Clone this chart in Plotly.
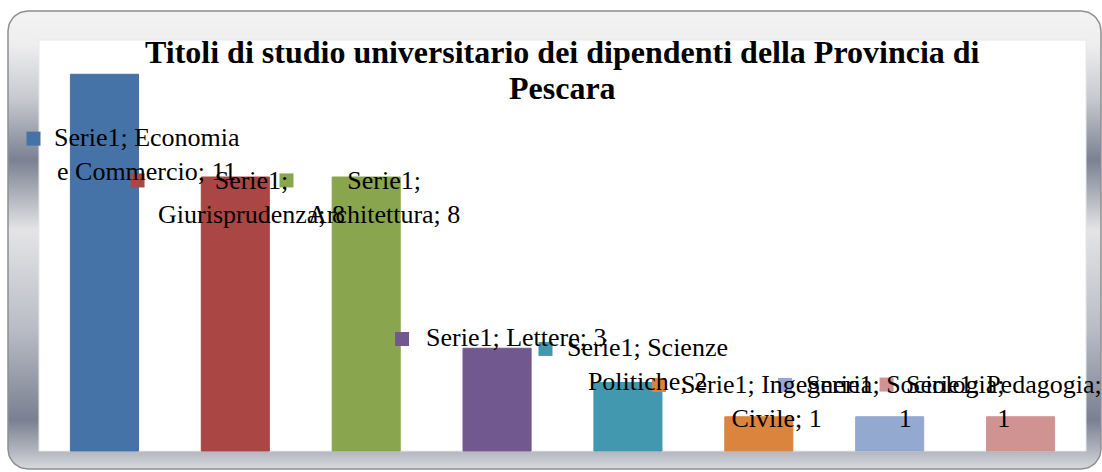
import numpy as np
import plotly.graph_objects as go

# ---- data ----
serie = "Serie1"
categorie = ["Economia e Commercio", "Giurisprudenza", "Architettura", "Lettere",
             "Scienze Politiche", "Ingegneria Civile", "Sociologia", "Pedagogia"]
valori = [11, 8, 8, 3, 2, 1, 1, 1]
colori = ["#4572A7", "#AA4643", "#89A54E", "#71588F",
          "#4198AF", "#DB843D", "#93A9CF", "#D19392"]
titolo = ["Titoli di studio universitario dei dipendenti della Provincia di", "Pescara"]

# ---- label layout (positions in axis units) ----
parole_prima_riga = [2, 1, 1, None, 2, 2, 2, 2]
key_x = [-0.542, 0.253, 1.391, 2.274, 3.370, 4.237, 5.200, 5.976]
key_y = [9.12, 7.90, 7.90, 3.27, 2.98, 1.93, 1.93, 1.94]
lab_x = [0.325, 1.120, 2.136, 3.148, 4.146, 5.139, 6.117, 6.873]
lab_y = [8.67, 7.40, 7.40, 3.30, 2.53, 1.445, 1.445, 1.445]

W, H = 1102, 472
SERIF = "Liberation Serif, Times New Roman, serif"

# plot area in pixels and axis ranges of the bar chart
PL, PR, PT, PB = 39, 1086, 40, 451
XR = [-0.5, 7.5]
YR = [0, 12]
ux = (PR - PL) / (XR[1] - XR[0])
uy = (PB - PT) / (YR[1] - YR[0])


def px2x(px):
    return XR[0] + (np.asarray(px, dtype=float) - PL) / ux


def py2y(py):
    return YR[0] + (PB - np.asarray(py, dtype=float)) / uy


def rounded_rect(x0, y0, x1, y1, r, n=16):
    xs, ys = [], []
    corners = [(x1 - r, y1 - r, 0), (x0 + r, y1 - r, 90), (x0 + r, y0 + r, 180), (x1 - r, y0 + r, 270)]
    for cx, cy, a0 in corners:
        t = np.radians(np.linspace(a0, a0 + 90, n))
        xs.extend(cx + r * np.cos(t))
        ys.extend(cy + r * np.sin(t))
    xs.append(xs[0]); ys.append(ys[0])
    return np.array(xs), np.array(ys)


fig = go.Figure()

# ---- decorative frame on its own (bottom) subplot ----
fx, fy = rounded_rect(8, 11, 1101, 469, 20)
stops_y = [11, 45, 100, 160, 230, 330, 420, 452, 469]
stops_c = ["#f3f3f3", "#eeeeef", "#c6c8ce", "#7b8192", "#e4e4e6",
           "#b9bcc5", "#7a8091", "#b5b8c1", "#d8d9dc"]
cs = sorted([[(469 - yy) / (469 - 11), c] for yy, c in zip(stops_y, stops_c)])
fig.add_trace(go.Scatter(
    x=px2x(fx), y=py2y(fy), xaxis="x", yaxis="y", mode="lines", fill="toself",
    line=dict(color="#8f8f8f", width=1.5),
    fillgradient=dict(type="vertical", colorscale=cs,
                      start=float(py2y(469)), stop=float(py2y(11))),
    hoverinfo="skip", showlegend=False))
fig.add_trace(go.Scatter(
    x=px2x([PL, PR, PR, PL, PL]), y=py2y([PB, PB, PT, PT, PB]),
    xaxis="x", yaxis="y", mode="lines", fill="toself", fillcolor="white",
    line=dict(color="#e8e8ea", width=1), hoverinfo="skip", showlegend=False))

# ---- bars (top subplot) ----
xi = list(range(len(categorie)))
fig.add_trace(go.Bar(
    x=xi, y=valori, xaxis="x2", yaxis="y2", width=0.52,
    marker=dict(color=colori, line=dict(color=colori, width=1)),
    hoverinfo="skip", showlegend=False))

# legend keys of the data labels
fig.add_trace(go.Scatter(
    x=key_x, y=key_y, xaxis="x2", yaxis="y2", mode="markers",
    marker=dict(symbol="square", size=14, color=colori, line=dict(width=0)),
    cliponaxis=False, hoverinfo="skip", showlegend=False))

annotations = []
for i, (cat, v) in enumerate(zip(categorie, valori)):
    words = f"{serie}; {cat}; {v}".split(" ")
    k = parole_prima_riga[i]
    if k is None:
        txt = " ".join(words)
    else:
        txt = " ".join(words[:k]) + "<br>" + " ".join(words[k:])
    annotations.append(dict(
        x=lab_x[i], y=lab_y[i], xref="x2", yref="y2", text=txt, showarrow=False,
        xanchor="center", yanchor="middle", align="center",
        font=dict(family=SERIF, size=26, color="black")))

for t, py in zip(titolo, [52, 88]):
    annotations.append(dict(
        x=562.5 / W, y=(H - py) / H, xref="paper", yref="paper",
        text=f"<b>{t}</b>", showarrow=False, xanchor="center", yanchor="middle",
        font=dict(family=SERIF, size=32, color="black")))

hidden = dict(visible=False, showgrid=False, zeroline=False, fixedrange=True)
xfull = [float(px2x(0)), float(px2x(W))]
yfull = [float(py2y(H)), float(py2y(0))]
fig.update_layout(
    width=W, height=H, autosize=False,
    margin=dict(l=0, r=0, t=0, b=0, pad=0),
    paper_bgcolor="white", plot_bgcolor="rgba(0,0,0,0)",
    xaxis=dict(range=xfull, domain=[0, 1], anchor="y", **hidden),
    yaxis=dict(range=yfull, domain=[0, 1], anchor="x", **hidden),
    xaxis2=dict(range=xfull, domain=[0, 1], anchor="y2", **hidden),
    yaxis2=dict(range=yfull, domain=[0, 1], anchor="x2", **hidden),
    annotations=annotations,
    hovermode=False,
)

fig.write_html(
    "out.html", config={"displayModeBar": False},
    post_script="document.body.style.margin='0';document.documentElement.style.overflow='hidden';")
